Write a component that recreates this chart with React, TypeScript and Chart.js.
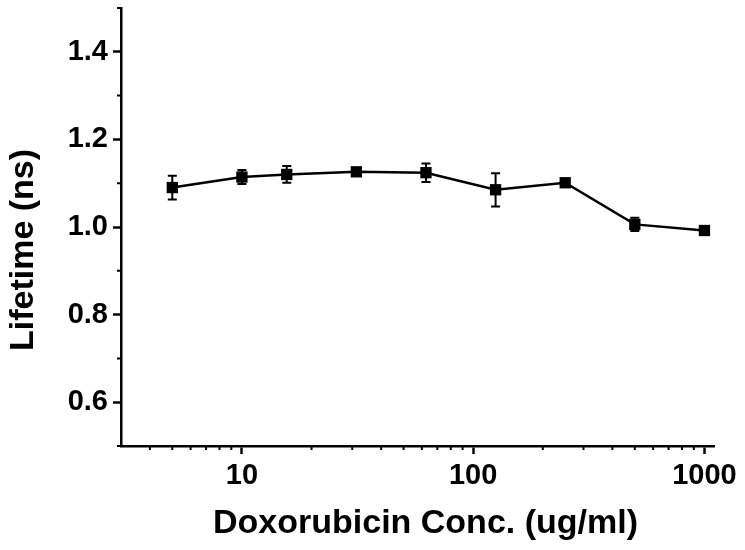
import React, { useEffect, useRef } from "react";
import { Chart, registerables } from "chart.js";
Chart.register(...registerables);

const concentrations = [5, 10, 15.625, 31.25, 62.5, 125, 250, 500, 1000];
const lifetimes = [1.09, 1.114, 1.12, 1.126, 1.124, 1.085, 1.101, 1.006, 0.992];
const errors = [0.027, 0.016, 0.019, 0, 0.021, 0.038, 0, 0.015, 0];
const xMajorTicks = [10, 100, 1000];
const xMinorTicks = [4, 5, 6, 7, 8, 9, 20, 30, 40, 50, 60, 70, 80, 90, 200, 300, 400, 500, 600, 700, 800, 900];
const yMajorTicks = [0.6, 0.8, 1.0, 1.2, 1.4];
const yMinorTicks = [0.5, 0.7, 0.9, 1.1, 1.3, 1.5];
const xTitle = "Doxorubicin Conc. (ug/ml)";
const yTitle = "Lifetime (ns)";

const FONT = "'Liberation Sans', Arial, Helvetica, sans-serif";

const errorBarPlugin = {
  id: "errorBars",
  afterDatasetsDraw(chart: any) {
    const { ctx, scales } = chart;
    const xs = scales.x, ys = scales.y;
    ctx.save();
    ctx.strokeStyle = "#000";
    ctx.lineWidth = 2;
    concentrations.forEach((c, i) => {
      const e = errors[i];
      if (!e) return;
      const px = xs.getPixelForValue(c);
      const top = ys.getPixelForValue(lifetimes[i] + e);
      const bot = ys.getPixelForValue(lifetimes[i] - e);
      ctx.beginPath();
      ctx.moveTo(px, top);
      ctx.lineTo(px, bot);
      ctx.moveTo(px - 4.5, top);
      ctx.lineTo(px + 4.5, top);
      ctx.moveTo(px - 4.5, bot);
      ctx.lineTo(px + 4.5, bot);
      ctx.stroke();
    });
    ctx.restore();
  },
};

const minorTickPlugin = {
  id: "minorTicks",
  afterDraw(chart: any) {
    const { ctx, scales, chartArea } = chart;
    ctx.save();
    ctx.strokeStyle = "#000";
    ctx.lineWidth = 2;
    ctx.beginPath();
    xMinorTicks.forEach((v) => {
      const px = scales.x.getPixelForValue(v);
      ctx.moveTo(px, chartArea.bottom);
      ctx.lineTo(px, chartArea.bottom + 4);
    });
    yMinorTicks.forEach((v) => {
      const py = scales.y.getPixelForValue(v);
      ctx.moveTo(chartArea.left, py);
      ctx.lineTo(chartArea.left - 4, py);
    });
    ctx.stroke();
    ctx.restore();
  },
};

const titlePlugin = {
  id: "axisTitles",
  afterDraw(chart: any) {
    const { ctx, chartArea } = chart;
    ctx.save();
    ctx.fillStyle = "#000";
    ctx.font = `bold 34px ${FONT}`;
    ctx.textAlign = "center";
    ctx.textBaseline = "alphabetic";
    const cx = (chartArea.left + chartArea.right) / 2 + 8;
    ctx.fillText(xTitle, cx, chartArea.bottom + 87);
    const cy = (chartArea.top + chartArea.bottom) / 2 + 23;
    ctx.translate(chartArea.left - 88, cy);
    ctx.rotate(-Math.PI / 2);
    ctx.fillText(yTitle, 0, 0);
    ctx.restore();
  },
};

export default function App() {
  const ref = useRef<HTMLCanvasElement>(null);
  useEffect(() => {
    if (!ref.current) return;
    const chart = new Chart(ref.current, {
      type: "line",
      data: {
        datasets: [
          {
            data: concentrations.map((c, i) => ({ x: c, y: lifetimes[i] })),
            borderColor: "#000",
            backgroundColor: "#000",
            borderWidth: 2.5,
            pointStyle: "rect",
            pointRadius: 8,
            pointBorderWidth: 0,
            pointBackgroundColor: "#000",
            tension: 0,
          },
        ],
      },
      plugins: [errorBarPlugin, minorTickPlugin, titlePlugin],
      options: {
        animation: false,
        responsive: false,
        layout: { padding: { top: 8, right: 31, left: 0, bottom: 0 } },
        plugins: { legend: { display: false }, tooltip: { enabled: false } },
        scales: {
          x: {
            type: "logarithmic",
            min: 3,
            max: 1100,
            afterBuildTicks: (s: any) => {
              s.ticks = xMajorTicks.map((v) => ({ value: v }));
            },
            afterFit: (s: any) => {
              s.height = 104;
              s.paddingLeft = 0;
              s.paddingRight = 0;
            },
            border: { display: true, color: "#000", width: 2.5 },
            grid: { drawOnChartArea: false, drawTicks: true, tickLength: 8, tickWidth: 2.5, tickColor: "#000" },
            ticks: {
              color: "#000",
              font: { family: FONT, size: 29, weight: "bold" },
              padding: 5,
              maxRotation: 0,
              autoSkip: false,
              callback: (v: any) => String(v),
            },
            title: { display: false, text: xTitle },
          },
          y: {
            min: 0.5,
            max: 1.5,
            afterBuildTicks: (s: any) => {
              s.ticks = yMajorTicks.map((v) => ({ value: v }));
            },
            afterFit: (s: any) => {
              s.width = 121;
              s.paddingTop = 0;
              s.paddingBottom = 0;
            },
            border: { display: true, color: "#000", width: 2.5 },
            grid: { drawOnChartArea: false, drawTicks: true, tickLength: 8, tickWidth: 2.5, tickColor: "#000" },
            ticks: {
              color: "#000",
              font: { family: FONT, size: 29, weight: "bold" },
              padding: 5,
              callback: (v: any) => Number(v).toFixed(1),
            },
            title: { display: false, text: yTitle },
          },
        },
      },
    });
    return () => chart.destroy();
  }, []);
  return (
    <div style={{ position: "absolute", left: 0, top: 0, width: 745, height: 550, background: "#fff" }}>
      <canvas ref={ref} width={745} height={550} />
    </div>
  );
}
